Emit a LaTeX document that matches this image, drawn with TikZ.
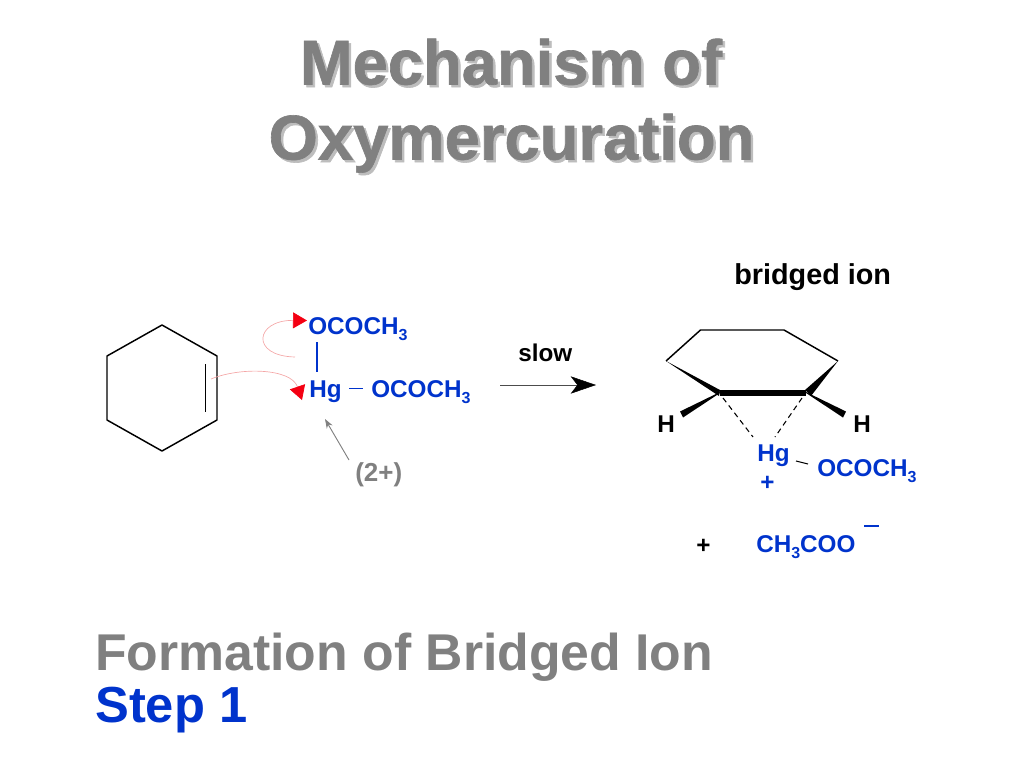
\documentclass[tikz,border=0pt]{standalone}
\usepackage{fontspec}
\setmainfont{Liberation Sans}
\newfontfamily\roundfont[UprightFont={* Bold},FakeBold=1]{Liberation Sans}
\usetikzlibrary{arrows.meta,calc}

\definecolor{chem_blue}{HTML}{0033CC}
\definecolor{chem_gray}{HTML}{808080}
\definecolor{chem_shadow}{HTML}{BDBDBD}
\definecolor{chem_red}{HTML}{F40012}
\definecolor{chem_curve}{HTML}{F4A6A6}

\newcommand{\threesub}{\raisebox{-0.28em}{\fontsize{12}{12}\selectfont 3}}

\tikzset{
  lbl/.style={rectangle, inner sep=0pt, anchor=base west, font=\bfseries\fontsize{18.2}{18.2}\selectfont},
  title_txt/.style={rectangle, inner sep=0pt, anchor=base, text=chem_gray, font=\roundfont\fontsize{47.5}{47.5}\selectfont},
  foot_txt/.style={rectangle, inner sep=0pt, anchor=base west, font=\bfseries\fontsize{38.8}{38.8}\selectfont},
  bond/.style={draw=black, line width=1.1pt},
  curly/.style={draw=chem_curve, line width=0.5pt, -{Triangle[length=10.5pt,width=12pt,fill=chem_red,color=chem_red]}},
}

\begin{document}
\begin{tikzpicture}[x=0.75pt, y=-0.75pt]
    \useasboundingbox (0,0) rectangle (1024,768);

    % titles
    \node[title_txt, text=chem_shadow] (title1s) at (513.5,87) {Mechanism of};
    \node[title_txt, text=chem_shadow] (title2s) at (514,162) {Oxymercuration};
    \node[title_txt] (title1) at (511,84.5) {Mechanism of};
    \node[title_txt] (title2) at (511.5,159.5) {Oxymercuration};
    \node[foot_txt, text=chem_gray] (formation) at (95,670) {Formation of Bridged Ion};
    \node[foot_txt, text=chem_blue, font=\bfseries\fontsize{38}{38}\selectfont] (step1) at (95,722) {Step 1};

    % cyclohexene
    \coordinate (c1) at (162,325);
    \coordinate (c2) at (217,356);
    \coordinate (c3) at (217,420);
    \coordinate (c4) at (162,451);
    \coordinate (c5) at (107,420);
    \coordinate (c6) at (107,356);
    \coordinate (d1) at (205.5,364);
    \coordinate (d2) at (205.5,412);
    \draw[bond, line join=round] (c1) -- (c2) -- (c3) -- (c4) -- (c5) -- (c6) -- cycle;
    \draw[bond] (d1) -- (d2);

    % mercuric acetate
    \node[lbl, text=chem_blue] (oac1) at (308,334) {OCOCH\threesub};
    \node[lbl, text=chem_blue] (hg1) at (309,397) {Hg};
    \node[lbl, text=chem_blue] (oac2) at (371,397) {OCOCH\threesub};
    \node[lbl, text=chem_gray, font=\bfseries\fontsize{19.5}{19.5}\selectfont] (charge) at (355,481) {(2+)};
    \coordinate (b1) at (317,342);
    \coordinate (b2) at (317,372);
    \coordinate (b3) at (349,388.5);
    \coordinate (b4) at (363,388.5);
    \draw[draw=chem_blue, line width=0.9pt] (b1) -- (b2);
    \draw[draw=chem_blue, line width=0.9pt] (b3) -- (b4);

    % curly arrows
    \coordinate (s1) at (295,357);
    \coordinate (e1) at (307,320.5);
    \coordinate (s2) at (211,379);
    \coordinate (e2) at (302,400);
    \draw[curly] (s1) .. controls (250,356) and (255,320) .. (e1);
    \draw[curly] (s2) .. controls (240,367) and (291,368) .. (e2);

    % charge pointer
    \coordinate (p1) at (349,460);
    \coordinate (p2) at (325,419);
    \draw[draw=chem_gray, line width=0.7pt, -{Stealth[length=7pt,width=5pt]}] (p1) -- (p2);

    % reaction arrow
    \node[lbl, text=black] (slow) at (518,361) {slow};
    \coordinate (r1) at (500,385);
    \coordinate (r2) at (596,385);
    \draw[draw=black!70, line width=0.35pt, -{Stealth[length=19pt,width=13pt,inset=5pt,color=black,fill=black]}] (r1) -- (r2);

    % bridged ion
    \node[lbl, text=black, font=\bfseries\fontsize{21.6}{21.6}\selectfont] (bridged) at (734,284) {bridged ion};
    \coordinate (i1) at (666,361);
    \coordinate (i2) at (700.5,330);
    \coordinate (i3) at (784,330);
    \coordinate (i4) at (838,361);
    \coordinate (i5) at (806,393);
    \coordinate (i6) at (720,393);
    \draw[bond, line join=round] (i1) -- (i2) -- (i3) -- (i4);
    \draw[draw=black, line width=4.5pt] (i6) -- (i5);
    \fill[black] (i1) -- (720,390) -- (719,396) -- cycle;
    \fill[black] (i4) -- (805,390) -- (811,396) -- cycle;
    \fill[black] (i6) ++(0,-1) -- (680,411.5) -- (683,417.5) -- (i6) -- cycle;
    \fill[black] (i5) ++(0,-1) -- (846,411.5) -- (843,417.5) -- (i5) -- cycle;
    \node[lbl, text=black] (hl) at (657,432) {H};
    \node[lbl, text=black] (hr) at (853,432) {H};
    \node[lbl, text=chem_blue] (hg2) at (757,461) {Hg};
    \node[lbl, text=chem_blue] (plus1) at (760,490) {+};
    \node[lbl, text=chem_blue] (oac3) at (817,476) {OCOCH\threesub};
    \coordinate (h1) at (723,398);
    \coordinate (h2) at (753,437);
    \coordinate (h3) at (802,398);
    \coordinate (h4) at (775,437);
    \draw[draw=black, line width=0.8pt, dash pattern=on 4pt off 3pt] (h1) -- (h2);
    \draw[draw=black, line width=0.8pt, dash pattern=on 4pt off 3pt] (h3) -- (h4);
    \coordinate (g1) at (796,461);
    \coordinate (g2) at (808,464);
    \draw[draw=black, line width=0.8pt] (g1) -- (g2);

    % acetate
    \node[lbl, text=black] (plus2) at (696,553) {+};
    \node[lbl, text=chem_blue] (ace) at (756,552) {CH\threesub COO};
    \coordinate (m1) at (864,526);
    \coordinate (m2) at (879,526);
    \draw[draw=chem_blue, line width=0.9pt] (m1) -- (m2);
  \end{tikzpicture}
\end{document}
